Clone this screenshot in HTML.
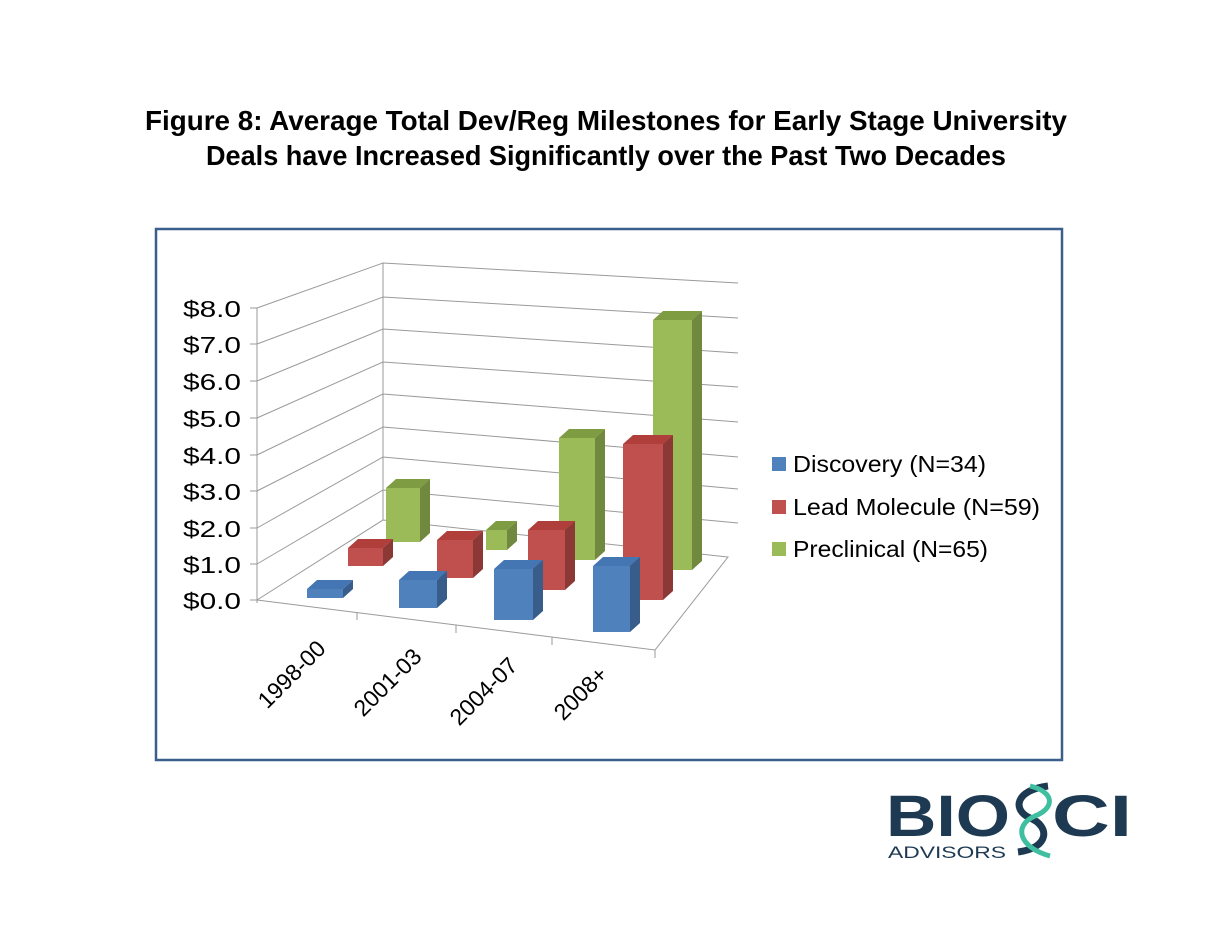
<!DOCTYPE html>
<html><head><meta charset="utf-8"><style>
html,body{margin:0;padding:0;background:#fff;}
svg{display:block;font-family:"Liberation Sans",Arial,sans-serif;}
</style></head><body>
<svg width="1210" height="935" viewBox="0 0 1210 935" xmlns="http://www.w3.org/2000/svg">
<text x="606" y="130" text-anchor="middle" font-weight="bold" font-size="28" textLength="922" lengthAdjust="spacingAndGlyphs" fill="#000">Figure 8:  Average Total Dev/Reg Milestones for Early Stage University</text>
<text x="606" y="165" text-anchor="middle" font-weight="bold" font-size="28" textLength="800" lengthAdjust="spacingAndGlyphs" fill="#000">Deals have Increased Significantly over the Past Two Decades</text>
<rect x="156" y="229" width="906" height="531" fill="#fff" stroke="#3B5F8C" stroke-width="2.5"/>
<g stroke="#9a9a9a" stroke-width="1" fill="none">
<line x1="383" y1="263" x2="383" y2="520"/>
<line x1="257" y1="308" x2="257" y2="603"/>
<polyline points="257,308 383,263 738,283"/>
<polyline points="257,344 383,297 738,318"/>
<polyline points="257,381 383,329 738,353"/>
<polyline points="257,418 383,362 738,387"/>
<polyline points="257,455 383,394 738,422"/>
<polyline points="257,491 383,427 738,457"/>
<polyline points="257,528 383,457 738,489"/>
<polyline points="257,564 383,490 738,523"/>
<polyline points="257,600 383,520 728,557 655,650 257,600"/>
<line x1="250" y1="600" x2="257" y2="600"/>
<line x1="250" y1="564" x2="257" y2="564"/>
<line x1="250" y1="528" x2="257" y2="528"/>
<line x1="250" y1="491" x2="257" y2="491"/>
<line x1="250" y1="455" x2="257" y2="455"/>
<line x1="250" y1="418" x2="257" y2="418"/>
<line x1="250" y1="381" x2="257" y2="381"/>
<line x1="250" y1="344" x2="257" y2="344"/>
<line x1="250" y1="308" x2="257" y2="308"/>
<line x1="357" y1="612" x2="357" y2="620"/>
<line x1="456" y1="625" x2="456" y2="633"/>
<line x1="552" y1="637" x2="552" y2="645"/>
<line x1="655" y1="650" x2="655" y2="658"/>
</g>
<g font-size="23" fill="#000" text-anchor="end">
<text x="241" y="609" textLength="58" lengthAdjust="spacingAndGlyphs">$0.0</text><text x="241" y="573" textLength="58" lengthAdjust="spacingAndGlyphs">$1.0</text><text x="241" y="537" textLength="58" lengthAdjust="spacingAndGlyphs">$2.0</text>
<text x="241" y="500" textLength="58" lengthAdjust="spacingAndGlyphs">$3.0</text><text x="241" y="464" textLength="58" lengthAdjust="spacingAndGlyphs">$4.0</text><text x="241" y="427" textLength="58" lengthAdjust="spacingAndGlyphs">$5.0</text>
<text x="241" y="390" textLength="58" lengthAdjust="spacingAndGlyphs">$6.0</text><text x="241" y="353" textLength="58" lengthAdjust="spacingAndGlyphs">$7.0</text><text x="241" y="317" textLength="58" lengthAdjust="spacingAndGlyphs">$8.0</text>
</g>
<g font-size="23" fill="#000" text-anchor="end">
<text transform="translate(327,650) rotate(-45)">1998-00</text>
<text transform="translate(423,658) rotate(-45)">2001-03</text>
<text transform="translate(519,667) rotate(-45)">2004-07</text>
<text transform="translate(609,676) rotate(-45)">2008+</text>
</g>
<g id="bars">
<polygon points="386,488 396,479 430,479 420,488" fill="#7E9C42"/><polygon points="420,488 430,479 430,533 420,542" fill="#71893F"/><rect x="386" y="488" width="34" height="54" fill="#9BBB59"/>
<polygon points="486,530 496,521 517,521 507,530" fill="#7E9C42"/><polygon points="507,530 517,521 517,541 507,550" fill="#71893F"/><rect x="486" y="530" width="21" height="20" fill="#9BBB59"/>
<polygon points="559,438 569,429 605,429 595,438" fill="#7E9C42"/><polygon points="595,438 605,429 605,551 595,560" fill="#71893F"/><rect x="559" y="438" width="36" height="122" fill="#9BBB59"/>
<polygon points="653,320 663,311 702,311 692,320" fill="#7E9C42"/><polygon points="692,320 702,311 702,561 692,570" fill="#71893F"/><rect x="653" y="320" width="39" height="250" fill="#9BBB59"/>
<polygon points="348,548 358,539 393,539 383,548" fill="#B03F3C"/><polygon points="383,548 393,539 393,557 383,566" fill="#8C3836"/><rect x="348" y="548" width="35" height="18" fill="#C0504D"/>
<polygon points="437,540 447,531 483,531 473,540" fill="#B03F3C"/><polygon points="473,540 483,531 483,569 473,578" fill="#8C3836"/><rect x="437" y="540" width="36" height="38" fill="#C0504D"/>
<polygon points="528,530 538,521 575,521 565,530" fill="#B03F3C"/><polygon points="565,530 575,521 575,581 565,590" fill="#8C3836"/><rect x="528" y="530" width="37" height="60" fill="#C0504D"/>
<polygon points="623,444 633,435 673,435 663,444" fill="#B03F3C"/><polygon points="663,444 673,435 673,591 663,600" fill="#8C3836"/><rect x="623" y="444" width="40" height="156" fill="#C0504D"/>
<polygon points="307,589 317,580 353,580 343,589" fill="#4576B4"/><polygon points="343,589 353,580 353,589 343,598" fill="#385D8A"/><rect x="307" y="589" width="36" height="9" fill="#4F81BD"/>
<polygon points="399,580 409,571 447,571 437,580" fill="#4576B4"/><polygon points="437,580 447,571 447,599 437,608" fill="#385D8A"/><rect x="399" y="580" width="38" height="28" fill="#4F81BD"/>
<polygon points="494,569 504,560 543,560 533,569" fill="#4576B4"/><polygon points="533,569 543,560 543,611 533,620" fill="#385D8A"/><rect x="494" y="569" width="39" height="51" fill="#4F81BD"/>
<polygon points="593,566 603,557 640,557 630,566" fill="#4576B4"/><polygon points="630,566 640,557 640,623 630,632" fill="#385D8A"/><rect x="593" y="566" width="37" height="66" fill="#4F81BD"/>
</g>
<rect x="772" y="457" width="14" height="14" fill="#4F81BD"/>
<rect x="772" y="500" width="14" height="14" fill="#C0504D"/>
<rect x="772" y="542" width="14" height="14" fill="#9BBB59"/>
<g font-size="23" fill="#000">
<text x="793" y="472" textLength="193" lengthAdjust="spacingAndGlyphs">Discovery (N=34)</text>
<text x="793" y="515" textLength="247" lengthAdjust="spacingAndGlyphs">Lead Molecule (N=59)</text>
<text x="793" y="557" textLength="195" lengthAdjust="spacingAndGlyphs">Preclinical (N=65)</text>
</g>
<g fill="#1D3A52" font-weight="bold">
<text x="886" y="836" font-size="58" textLength="124" lengthAdjust="spacingAndGlyphs">BIO</text>
<text x="1052" y="836" font-size="58" textLength="80" lengthAdjust="spacingAndGlyphs">CI</text>
<text x="888" y="858" font-size="17" textLength="118" lengthAdjust="spacingAndGlyphs" font-weight="normal">ADVISORS</text>
</g>
<path d="M1048,786 C1015,790 1012,810 1030,818 C1050,826 1050,848 1018,852" stroke="#1D3A52" stroke-width="7" fill="none"/>
<path d="M1030,786 C1055,792 1055,808 1035,816 C1012,826 1020,848 1050,856" stroke="#3FBFA0" stroke-width="5" fill="none"/>
</svg>
</body></html>
